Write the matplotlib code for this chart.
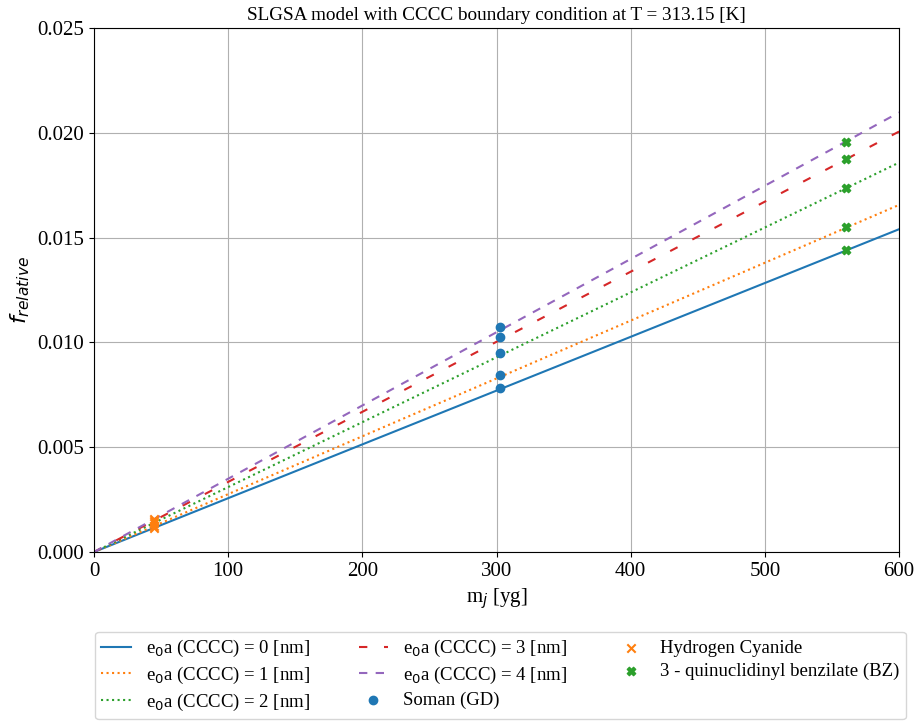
import matplotlib
matplotlib.use('Agg')
import matplotlib.pyplot as plt

plt.rcParams.update({
    'font.family': 'serif',
    'font.serif': ['Liberation Serif', 'DejaVu Serif'],
    'mathtext.fontset': 'dejavusans',
})

# line endpoints (m_j in yg, f_relative)
m_line = [0, 600]
f_e0 = [0, 0.01540]
f_e1 = [0, 0.01656]
f_e2 = [0, 0.01858]
f_e3 = [0, 0.02006]
f_e4 = [0, 0.02097]

# agents: masses and f_relative for e0a = 0..4
m_hcn = 44.88
f_hcn = [0.00116, 0.00124, 0.00139, 0.00150, 0.00157]
m_soman = 302.5
f_soman = [0.00784, 0.00846, 0.00951, 0.01027, 0.01072]
m_bz = 560.3
f_bz = [0.01441, 0.01549, 0.01735, 0.01874, 0.01958]

labels = [r'e$_0$a (CCCC) = %d [nm]' % i for i in range(5)]

fig = plt.figure(figsize=(9.19, 7.24), dpi=100)
ax = fig.add_axes([0.1023, 0.2376, 0.8760, 0.7237])

ax.plot(m_line, f_e0, color='C0', linestyle='-', label=labels[0])
ax.plot(m_line, f_e1, color='C1', linestyle=':', label=labels[1])
ax.plot(m_line, f_e2, color='C2', linestyle=':', label=labels[2])
ax.plot(m_line, f_e3, color='C3', linestyle=(0, (4, 8)), label=labels[3])
ax.plot(m_line, f_e4, color='C4', linestyle=(0, (4, 4)), label=labels[4])

ax.scatter([m_soman] * len(f_soman), f_soman, color='C0', marker='o', label='Soman (GD)', zorder=3)
ax.scatter([m_hcn] * len(f_hcn), f_hcn, color='C1', marker='x', label='Hydrogen Cyanide', zorder=3)
ax.scatter([m_bz] * len(f_bz), f_bz, color='C2', marker='X', label='3 - quinuclidinyl benzilate (BZ)', zorder=3)

ax.set_xlim(0, 600)
ax.set_ylim(0, 0.025)
ax.grid(True)
ax.tick_params(labelsize=15)
ax.set_xlabel(r'm$_j$ [yg]', fontsize=15)
ax.set_ylabel(r'$f_{relative}$', fontsize=16)
ax.set_title('SLGSA model with CCCC boundary condition at T = 313.15 [K]', fontsize=13.8)

ax.legend(loc='upper center', bbox_to_anchor=(0.505, -0.134), ncol=3, fontsize=13.5,
          scatterpoints=1, labelspacing=0.3, borderpad=0.35,
          handlelength=1.57, columnspacing=2.6)

fig.savefig('out.png', dpi=100)
